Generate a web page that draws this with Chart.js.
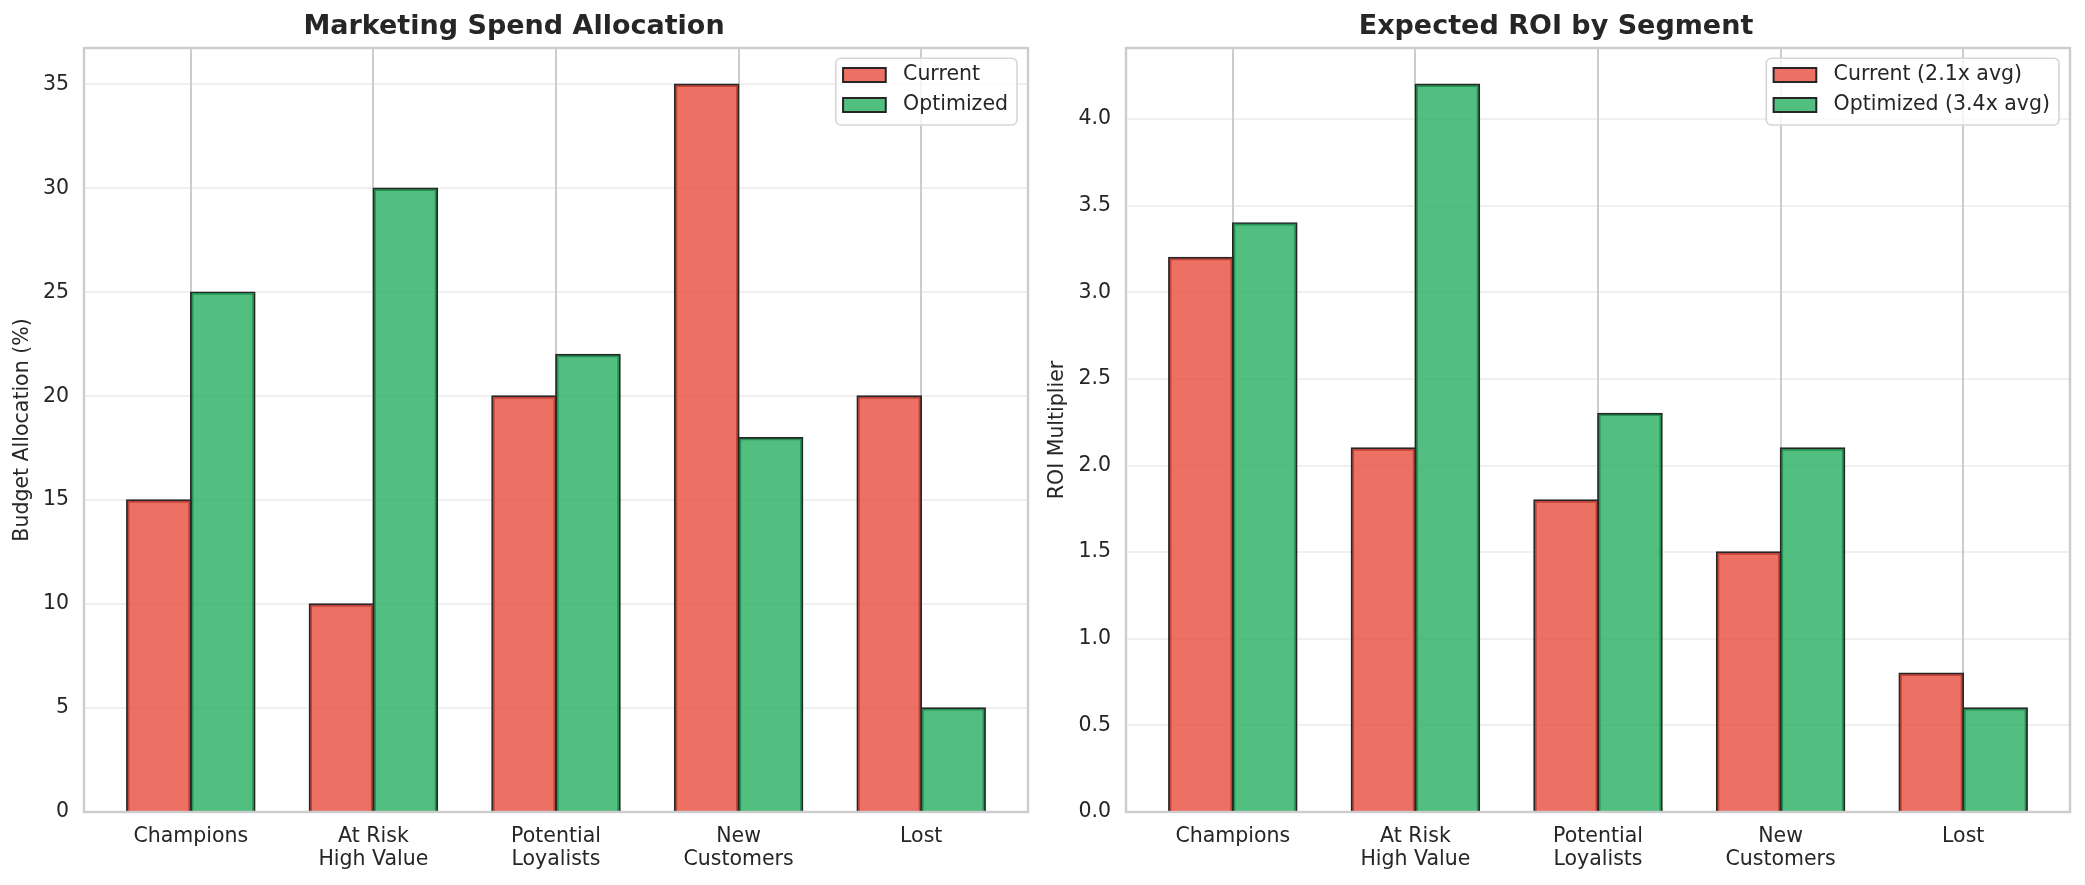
<!DOCTYPE html>
<html><head><meta charset="utf-8">
<script src="https://cdn.jsdelivr.net/npm/chart.js@4.4.1/dist/chart.umd.min.js"></script>
<style>
html,body{margin:0;padding:0;background:#fff;width:2085px;height:885px;overflow:hidden}
canvas{position:absolute;top:0}
#c1{left:0}
#c2{left:1042px}
</style></head><body>
<canvas id="c1" width="1042" height="885"></canvas>
<canvas id="c2" width="1043" height="885"></canvas>
<script>
const categories = [['Champions'], ['At Risk', 'High Value'], ['Potential', 'Loyalists'], ['New', 'Customers'], ['Lost']];
const spendSeries = ['Current', 'Optimized'];
const spendCurrent = [15, 10, 20, 35, 20];
const spendOptimized = [25, 30, 22, 18, 5];
const spendTicks = [0, 5, 10, 15, 20, 25, 30, 35];
const roiSeries = ['Current (2.1x avg)', 'Optimized (3.4x avg)'];
const roiCurrent = [3.2, 2.1, 1.8, 1.5, 0.8];
const roiOptimized = [3.4, 4.2, 2.3, 2.1, 0.6];
const roiTicks = [0, 0.5, 1.0, 1.5, 2.0, 2.5, 3.0, 3.5, 4.0];

const FONT = '"DejaVu Sans", sans-serif';
const TXT = '#262626';
const RED = 'rgba(231,76,60,0.8)';
const GREEN = 'rgba(39,174,96,0.8)';
const EDGE = '#262626';

const spinePlugin = {
  id: 'spines',
  afterDatasetsDraw(chart) {
    const {ctx, chartArea: a} = chart;
    ctx.save();
    ctx.strokeStyle = '#cccccc';
    ctx.lineWidth = 2.4;
    ctx.strokeRect(a.left, a.top, a.right - a.left, a.bottom - a.top);
    ctx.restore();
  }
};

const legendPlugin = {
  id: 'innerLegend',
  afterDraw(chart) {
    const {ctx, chartArea: a} = chart;
    ctx.save();
    ctx.font = '20.5px ' + FONT;
    const ds = chart.data.datasets;
    const tw = Math.max(...ds.map(d => ctx.measureText(d.label).width));
    const w = 7.3 + 42.7 + 17.3 + tw + 9;
    const h = 66.7;
    const x = a.right - 11 - w;
    const y = a.top + 10.3;
    ctx.beginPath();
    ctx.roundRect(x, y, w, h, 5);
    ctx.fillStyle = 'rgba(255,255,255,0.8)';
    ctx.fill();
    ctx.strokeStyle = '#d6d6d6';
    ctx.lineWidth = 1.6;
    ctx.stroke();
    ds.forEach((d, i) => {
      const cy = y + 16.7 + i * 30;
      ctx.fillStyle = '#fff';
      ctx.fillRect(x + 7.3, cy - 7, 42.7, 14);
      ctx.fillStyle = d.backgroundColor;
      ctx.fillRect(x + 7.3, cy - 7, 42.7, 14);
      ctx.strokeStyle = EDGE;
      ctx.lineWidth = 2;
      ctx.strokeRect(x + 7.3, cy - 7, 42.7, 14);
      ctx.fillStyle = TXT;
      ctx.textBaseline = 'middle';
      ctx.textAlign = 'left';
      ctx.fillText(d.label, x + 67.3, cy);
    });
    ctx.restore();
  }
};

function makeChart(id, title, yTitle, series, cur, opt, yTicks, yMax, yFmt, yTitlePad, rightPad) {
  const pts = arr => arr.map((v, i) => ({x: i, y: v}));
  return new Chart(document.getElementById(id), {
    type: 'bar',
    data: {
      datasets: [
        {label: series[0], data: pts(cur), backgroundColor: RED, borderColor: EDGE, borderWidth: 1.7, borderSkipped: 'start', inflateAmount: 0.85},
        {label: series[1], data: pts(opt), backgroundColor: GREEN, borderColor: EDGE, borderWidth: 1.7, borderSkipped: 'start', inflateAmount: 0.85}
      ]
    },
    options: {
      responsive: false,
      animation: false,
      devicePixelRatio: 1,
      categoryPercentage: 0.7,
      barPercentage: 1.0,
      layout: {padding: {left: 0, right: rightPad, top: 0, bottom: 0}},
      plugins: {
        legend: {display: false},
        tooltip: {enabled: false},
        title: {
          display: true, text: title, color: TXT,
          font: {family: FONT, size: 27, weight: 'bold', lineHeight: 1.2},
          padding: {top: 10.5, bottom: 5.1}
        }
      },
      scales: {
        x: {
          type: 'linear',
          offset: false,
          min: -0.585, max: 4.585,
          bounds: 'data',
          afterBuildTicks: s => { s.ticks = categories.map((c, i) => ({value: i})); },
          afterFit: s => { s.height = 73; },
          ticks: {
            color: TXT, padding: 12.5,
            font: {family: FONT, size: 20.5, lineHeight: 1.15},
            callback: (v) => categories[Math.round(v)]
          },
          grid: {offset: false, color: '#cccccc', lineWidth: 2, drawTicks: false},
          border: {display: false}
        },
        y: {
          type: 'linear',
          min: 0, max: yMax,
          bounds: 'data',
          afterBuildTicks: s => { s.ticks = yTicks.map(v => ({value: v})); },
          afterFit: s => { s.width = 84; },
          ticks: {
            color: TXT, padding: 15,
            font: {family: FONT, size: 20.5},
            callback: yFmt
          },
          grid: {color: 'rgba(204,204,204,0.3)', lineWidth: 2, drawTicks: false},
          border: {display: false},
          title: {
            display: true, text: yTitle, color: TXT,
            font: {family: FONT, size: 20.5, lineHeight: 1.164},
            padding: {top: yTitlePad, bottom: 0}
          }
        }
      }
    },
    plugins: [spinePlugin, legendPlugin]
  });
}

makeChart('c1', 'Marketing Spend Allocation', 'Budget Allocation (%)', spendSeries,
  spendCurrent, spendOptimized, spendTicks, 35 * 1.05, v => String(v), 10.8, 14);
makeChart('c2', 'Expected ROI by Segment', 'ROI Multiplier', roiSeries,
  roiCurrent, roiOptimized, roiTicks, 4.2 * 1.05, v => v.toFixed(1), 4.1, 15);
</script>
</body></html>
